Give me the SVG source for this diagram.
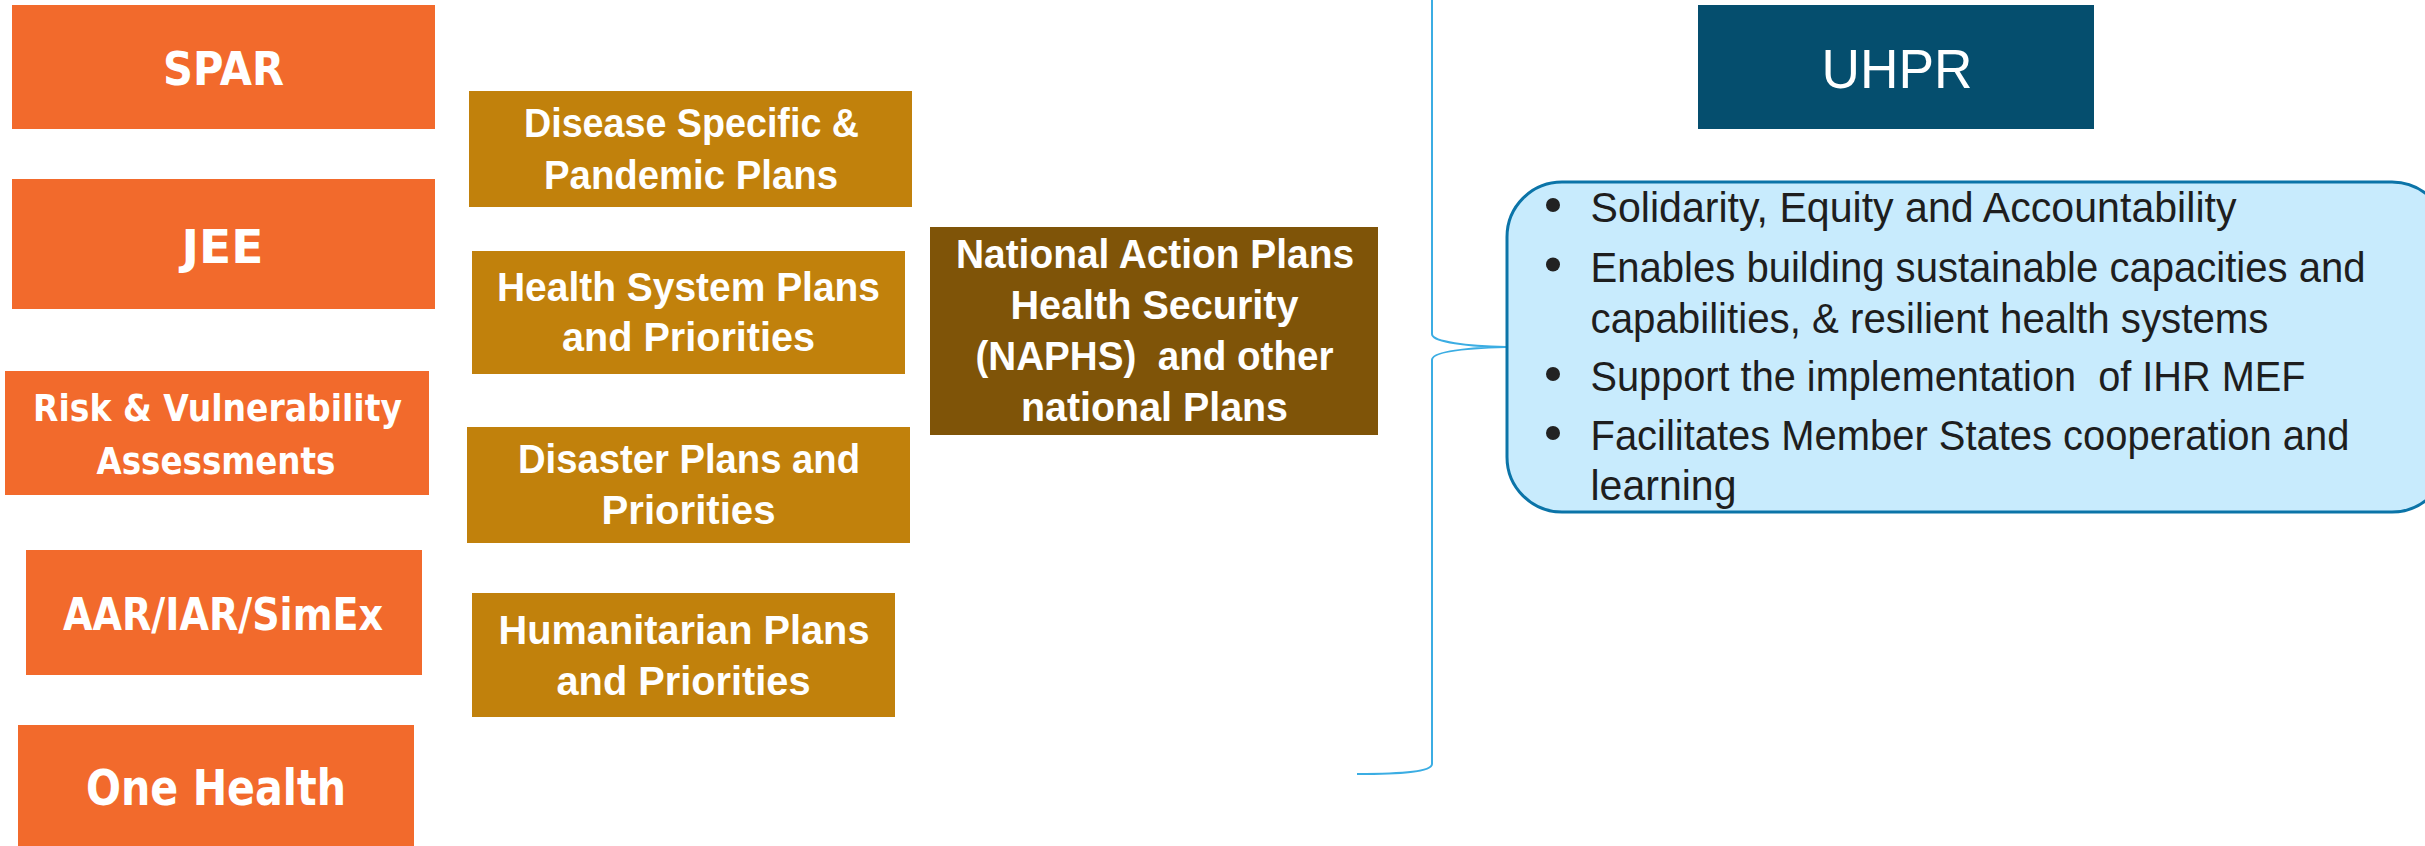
<svg xmlns="http://www.w3.org/2000/svg" width="2425" height="846" viewBox="0 0 2425 846">
<style>
.or{fill:#F26A2C}
.gd{fill:#C1810C}
.br{fill:#7F5408}
text{white-space:pre}
.ot{font-family:"DejaVu Sans","Liberation Sans",sans-serif;font-weight:bold;fill:#fff;text-anchor:middle}
.gt{font-family:"Liberation Sans","Open Sans",sans-serif;font-weight:bold;fill:#fff;text-anchor:middle;font-size:40px}
.bt{font-family:"Liberation Sans","Open Sans",sans-serif;fill:#1e1e1e;font-size:42px}
.dot{fill:#222}
</style>
<rect width="2425" height="846" fill="#fff"/>
<g id="connectors">
<path d="M1432 0 L1432 334 C1432 342 1468 346 1506 347 C1468 348 1432 351 1432 360 L1432 764 C1432 772 1400 774 1357 774" fill="none" stroke="#3BADE3" stroke-width="2"/>
</g>
<g id="spar"><rect class="or" x="12" y="5" width="423" height="124"/><text class="ot" x="223.5" y="85" font-size="46" textLength="121" lengthAdjust="spacingAndGlyphs">SPAR</text></g>
<g id="jee"><rect class="or" x="12" y="179" width="423" height="130"/><text class="ot" x="222.5" y="263" font-size="47" textLength="82" lengthAdjust="spacingAndGlyphs">JEE</text></g>
<g id="risk"><rect class="or" x="5" y="371" width="424" height="124"/><text class="ot" x="217.5" y="421" font-size="38" textLength="369" lengthAdjust="spacingAndGlyphs">Risk &amp; Vulnerability</text><text class="ot" x="216" y="474" font-size="38" textLength="239" lengthAdjust="spacingAndGlyphs">Assessments</text></g>
<g id="aar"><rect class="or" x="26" y="550" width="396" height="125"/><text class="ot" x="223" y="630" font-size="45" textLength="320" lengthAdjust="spacingAndGlyphs">AAR/IAR/SimEx</text></g>
<g id="onehealth"><rect class="or" x="18" y="725" width="396" height="125"/><text class="ot" x="216" y="805" font-size="49" textLength="260" lengthAdjust="spacingAndGlyphs">One Health</text></g>
<g id="disease"><rect class="gd" x="469" y="91" width="443" height="116"/><text class="gt" x="691.5" y="137" textLength="335" lengthAdjust="spacingAndGlyphs">Disease Specific &amp;</text><text class="gt" x="691" y="189" textLength="294" lengthAdjust="spacingAndGlyphs">Pandemic Plans</text></g>
<g id="healthsys"><rect class="gd" x="472" y="251" width="433" height="123"/><text class="gt" x="688.5" y="301" textLength="383" lengthAdjust="spacingAndGlyphs">Health System Plans</text><text class="gt" x="688.5" y="351" textLength="253" lengthAdjust="spacingAndGlyphs">and Priorities</text></g>
<g id="disaster"><rect class="gd" x="467" y="427" width="443" height="116"/><text class="gt" x="689" y="473" textLength="342" lengthAdjust="spacingAndGlyphs">Disaster Plans and</text><text class="gt" x="688.5" y="524" textLength="174" lengthAdjust="spacingAndGlyphs">Priorities</text></g>
<g id="humanitarian"><rect class="gd" x="472" y="593" width="423" height="124"/><text class="gt" x="684" y="644" textLength="371" lengthAdjust="spacingAndGlyphs">Humanitarian Plans</text><text class="gt" x="683.5" y="695" textLength="254" lengthAdjust="spacingAndGlyphs">and Priorities</text></g>
<g id="naphs"><rect class="br" x="930" y="227" width="448" height="208"/><text class="gt" x="1155" y="267.5" textLength="398" lengthAdjust="spacingAndGlyphs">National Action Plans</text><text class="gt" x="1154.5" y="319" textLength="288" lengthAdjust="spacingAndGlyphs">Health Security</text><text class="gt" x="1154.5" y="370" textLength="358" lengthAdjust="spacingAndGlyphs">(NAPHS)  and other</text><text class="gt" x="1154.5" y="420.5" textLength="267" lengthAdjust="spacingAndGlyphs">national Plans</text></g>
<g id="uhpr"><rect fill="#054E6E" x="1698" y="5" width="396" height="124"/><text x="1897" y="88" font-family="Liberation Sans,Open Sans,sans-serif" font-size="56" fill="#fff" text-anchor="middle" textLength="151" lengthAdjust="spacingAndGlyphs">UHPR</text></g>
<g id="uhpr-features">
<rect x="1507" y="182" width="940" height="330" rx="55" ry="55" fill="#C8EBFD" stroke="#0B74A8" stroke-width="3"/>
<circle class="dot" cx="1553" cy="205" r="7"/>
<circle class="dot" cx="1553" cy="264.5" r="7"/>
<circle class="dot" cx="1553" cy="374" r="7"/>
<circle class="dot" cx="1553" cy="433" r="7"/>
<text class="bt" x="1590.5" y="222" textLength="646" lengthAdjust="spacingAndGlyphs">Solidarity, Equity and Accountability</text>
<text class="bt" x="1590.5" y="282" textLength="775" lengthAdjust="spacingAndGlyphs">Enables building sustainable capacities and</text>
<text class="bt" x="1590.5" y="333" textLength="678" lengthAdjust="spacingAndGlyphs">capabilities, &amp; resilient health systems</text>
<text class="bt" x="1590.5" y="391" textLength="715" lengthAdjust="spacingAndGlyphs">Support the implementation  of IHR MEF</text>
<text class="bt" x="1590.5" y="450" textLength="759" lengthAdjust="spacingAndGlyphs">Facilitates Member States cooperation and</text>
<text class="bt" x="1590.5" y="500" textLength="146" lengthAdjust="spacingAndGlyphs">learning</text>
</g>
</svg>
